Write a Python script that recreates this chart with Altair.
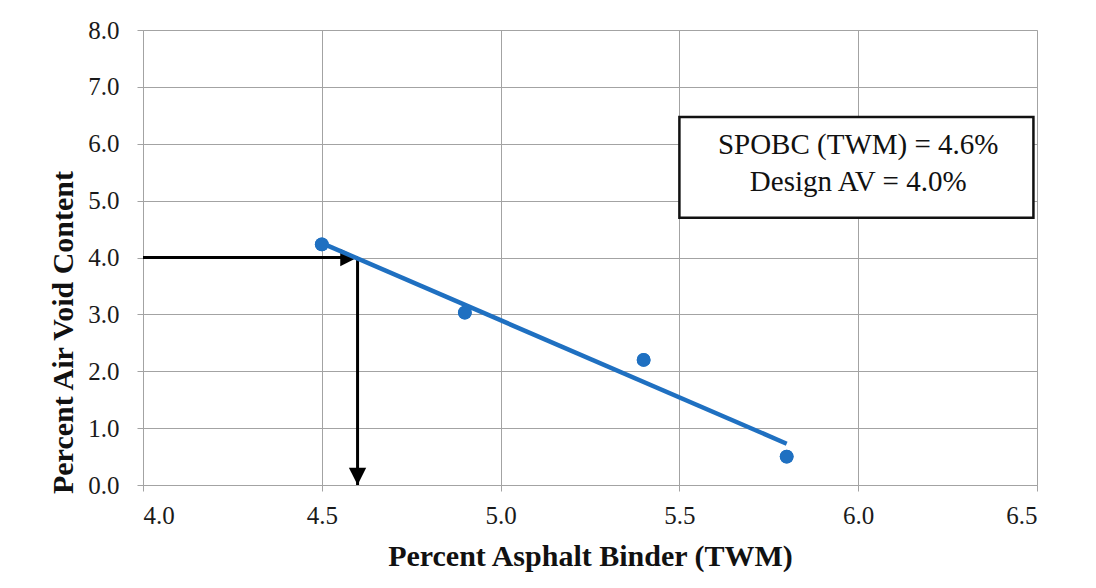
import altair as alt
import pandas as pd

# Data
binder = [4.5, 4.9, 5.4, 5.8]
air_voids = [4.23, 3.03, 2.20, 0.50]

x_ticks = [4.0, 4.5, 5.0, 5.5, 6.0, 6.5]
y_ticks = [0, 1, 2, 3, 4, 5, 6, 7, 8]

design_av = 4.0
spobc = 4.6

box_x = [5.5]
box_x2 = [6.49]
box_y = [4.7]
box_y2 = [6.47]
box_text = ["SPOBC (TWM) = 4.6%", "Design AV = 4.0%"]
box_text_x = [6.0, 6.0]
box_text_y = [5.97, 5.32]

FONT = "Liberation Serif"
BLUE = "#1f70c1"
GRID = "#a3a3a3"

pts = pd.DataFrame({"x": binder, "y": air_voids})

xscale = alt.Scale(domain=[4.0, 6.5], nice=False, zero=False)
yscale = alt.Scale(domain=[0, 8], nice=False, zero=False)

xaxis = alt.Axis(
    values=x_ticks, format=".1f", title="Percent Asphalt Binder (TWM)",
    grid=True, gridColor=GRID, gridWidth=1,
    domainColor=GRID, tickColor=GRID, tickSize=6,
    labelFont=FONT, labelFontSize=25, labelColor="#1a1a1a", labelPadding=12,
    titleFont=FONT, titleFontSize=30, titleFontWeight="bold", titleColor="#111111",
    titleBaseline="alphabetic", titleY=80,
)
yaxis = alt.Axis(
    values=y_ticks, format=".1f", title="Percent Air Void Content",
    grid=True, gridColor=GRID, gridWidth=1,
    domainColor=GRID, tickColor=GRID, tickSize=6,
    labelFont=FONT, labelFontSize=25, labelColor="#1a1a1a", labelPadding=18,
    titleFont=FONT, titleFontSize=30, titleFontWeight="bold", titleColor="#111111",
    titleAngle=270, titleBaseline="alphabetic", titleAlign="center",
    titleX=-71, titleY=302,
)

base = alt.Chart(pts)

points = base.mark_circle(size=190, color=BLUE, opacity=1).encode(
    x=alt.X("x:Q", scale=xscale, axis=xaxis),
    y=alt.Y("y:Q", scale=yscale, axis=yaxis),
)

trend = base.transform_regression("x", "y").mark_line(
    color=BLUE, strokeWidth=4.5
).encode(x=alt.X("x:Q", scale=xscale), y=alt.Y("y:Q", scale=yscale))

box_df = pd.DataFrame({"x": box_x, "x2": box_x2, "y": box_y, "y2": box_y2})
box = alt.Chart(box_df).mark_rect(
    fill="white", stroke="#111111", strokeWidth=2.5
).encode(
    x=alt.X("x:Q", scale=xscale), x2="x2:Q",
    y=alt.Y("y:Q", scale=yscale), y2="y2:Q",
)

txt_df = pd.DataFrame({"x": box_text_x, "y": box_text_y, "t": box_text})
txt = alt.Chart(txt_df).mark_text(
    font=FONT, fontSize=29, color="#111111", align="center", baseline="middle"
).encode(
    x=alt.X("x:Q", scale=xscale), y=alt.Y("y:Q", scale=yscale), text="t:N"
)

arrows_df = pd.DataFrame({
    "x": [4.0, spobc], "x2": [spobc, spobc],
    "y": [design_av, design_av], "y2": [design_av, 0.0],
})
arrow_lines = alt.Chart(arrows_df).mark_rule(color="#000000", strokeWidth=3).encode(
    x=alt.X("x:Q", scale=xscale), x2="x2:Q",
    y=alt.Y("y:Q", scale=yscale), y2="y2:Q",
)

head_r = pd.DataFrame({"x": [spobc], "y": [design_av]})
head_right = alt.Chart(head_r).mark_point(
    shape="M-2,-1L0,0L-2,1Z", size=300, filled=True, color="#000000", opacity=1, strokeWidth=0
).encode(x=alt.X("x:Q", scale=xscale), y=alt.Y("y:Q", scale=yscale))

head_d = pd.DataFrame({"x": [spobc], "y": [0.0]})
head_down = alt.Chart(head_d).mark_point(
    shape="M-1,-2L0,0L1,-2Z", size=300, filled=True, color="#000000", opacity=1, strokeWidth=0
).encode(x=alt.X("x:Q", scale=xscale), y=alt.Y("y:Q", scale=yscale))

chart = alt.layer(
    points, box, txt, arrow_lines, head_right, head_down, trend, points
).properties(
    width=894, height=455,
    autosize=alt.AutoSizeParams(type="none"),
    padding={"left": 135, "top": 22, "right": 51, "bottom": 95},
).configure_view(stroke=None).configure(background="white")

chart.save("out.html", embed_options={"renderer": "svg", "actions": False})
